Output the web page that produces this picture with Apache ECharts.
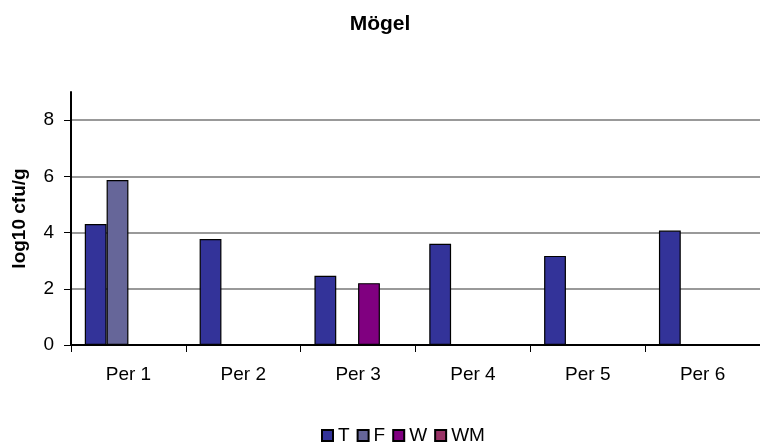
<!DOCTYPE html>
<html>
<head>
<meta charset="utf-8">
<script src="https://cdn.jsdelivr.net/npm/echarts@6/dist/echarts.min.js"></script>
<style>
  html, body { margin: 0; padding: 0; background: #fff; }
  #chart { width: 760px; height: 445px; }
</style>
</head>
<body>
<div id="chart"></div>
<script>
// data
const categories = ['Per 1', 'Per 2', 'Per 3', 'Per 4', 'Per 5', 'Per 6'];
const seriesNames = ['T', 'F', 'W', 'WM'];
const valuesT = [4.3, 3.77, 2.46, 3.6, 3.17, 4.07];
const valuesF = [5.87, null, null, null, null, null];
const valuesW = [null, null, 2.2, null, null, null];
const valuesWM = [null, null, null, null, null, null];
const yTicks = [0, 2, 4, 6, 8];

const colors = ['#333399', '#666699', '#800080', '#993366'];
const allValues = [valuesT, valuesF, valuesW, valuesWM];

let chart = echarts.init(document.getElementById('chart'));
chart.setOption({
  backgroundColor: '#fff',
  animation: false,
  textStyle: { fontFamily: 'Liberation Sans, Arial, sans-serif' },
  title: {
    text: 'Mögel',
    left: 'center',
    top: 9,
    textStyle: { fontSize: 21, fontWeight: 'bold', color: '#000' }
  },
  legend: {
    top: 421,
    left: 316,
    itemWidth: 11,
    itemHeight: 11,
    itemGap: 7,
    icon: 'rect',
    textStyle: { fontSize: 19, color: '#000' },
    data: seriesNames
  },
  grid: {
    left: 71,
    top: 92,
    width: 696,
    bottom: 100
  },
  xAxis: {
    type: 'category',
    data: categories,
    axisLine: { lineStyle: { color: '#000', width: 2 } },
    axisTick: { show: true, length: 7, lineStyle: { color: '#000' } },
    axisLabel: { color: '#000', fontSize: 19, margin: 20 },
    splitLine: { show: false }
  },
  yAxis: {
    type: 'value',
    min: 0,
    max: 9,
    interval: 2,
    name: 'log10 cfu/g',
    nameLocation: 'middle',
    nameGap: 42,
    nameTextStyle: { fontSize: 19, fontWeight: 'bold', color: '#000' },
    axisLine: { show: true, lineStyle: { color: '#000', width: 2 } },
    axisTick: { show: true, length: 7, lineStyle: { color: '#000' }, customValues: yTicks },
    axisLabel: { color: '#000', fontSize: 19, margin: 17, customValues: yTicks },
    splitLine: { show: true, lineStyle: { color: '#999', width: 2 } }
  },
  series: seriesNames.map((name, i) => ({
    name: name,
    type: 'bar',
    barGap: '0%',
    barCategoryGap: '24%',
    itemStyle: { color: colors[i], borderColor: '#000', borderWidth: 1.2 },
    data: allValues[i]
  }))
});
</script>
</body>
</html>
